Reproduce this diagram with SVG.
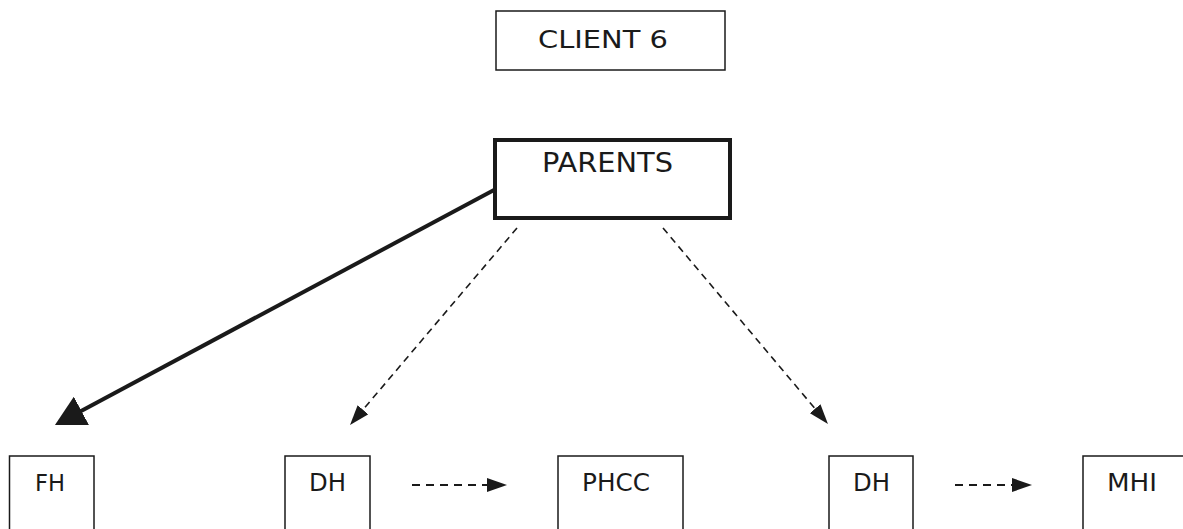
<svg xmlns="http://www.w3.org/2000/svg" width="1183" height="529" viewBox="0 0 1183 529">
  <style>
    .box { fill: #ffffff; stroke: #1a1a1a; stroke-width: 1.5; }
    .thick { stroke-width: 4; }
    .lbl { font-family: "DejaVu Sans", Verdana, sans-serif; fill: #1a1a1a; text-anchor: middle; }
    .solid { stroke: #1a1a1a; stroke-width: 4; fill: none; }
    .dash { stroke: #1a1a1a; stroke-width: 1.6; stroke-dasharray: 7 5; fill: none; }
    .hdash { stroke: #1a1a1a; stroke-width: 2; stroke-dasharray: 8 6; fill: none; }
  </style>
  <defs>
    <marker id="bigArrow" markerUnits="userSpaceOnUse" markerWidth="30" markerHeight="32" viewBox="0 0 30 32" refX="22" refY="16" orient="auto">
      <path d="M0,0 L30,16 L0,32 z" fill="#1a1a1a"/>
    </marker>
    <marker id="smallArrow" markerUnits="userSpaceOnUse" markerWidth="20" markerHeight="14" viewBox="0 0 20 14" refX="14" refY="7" orient="auto">
      <path d="M0,0 L20,7 L0,14 z" fill="#1a1a1a"/>
    </marker>
  </defs>
  <rect width="1183" height="529" fill="#ffffff"/>

  <g id="client6">
    <rect class="box" x="496" y="11" width="229" height="59"/>
    <text class="lbl" x="603" y="48" font-size="25" textLength="130" lengthAdjust="spacingAndGlyphs">CLIENT 6</text>
  </g>

  <g id="parents">
    <rect class="box thick" x="495" y="140" width="235" height="78"/>
    <text class="lbl" x="607.5" y="172" font-size="27" textLength="131" lengthAdjust="spacingAndGlyphs">PARENTS</text>
  </g>

  <g id="fh">
    <rect class="box" x="9.5" y="456" width="84.5" height="90"/>
    <text class="lbl" x="50" y="491" font-size="23" textLength="30" lengthAdjust="spacingAndGlyphs">FH</text>
  </g>

  <g id="dh1">
    <rect class="box" x="285" y="456" width="85" height="90"/>
    <text class="lbl" x="327.5" y="491" font-size="24" textLength="37" lengthAdjust="spacingAndGlyphs">DH</text>
  </g>

  <g id="phcc">
    <rect class="box" x="558" y="456" width="125" height="90"/>
    <text class="lbl" x="616" y="491" font-size="24" textLength="68" lengthAdjust="spacingAndGlyphs">PHCC</text>
  </g>

  <g id="dh2">
    <rect class="box" x="829" y="456" width="84" height="90"/>
    <text class="lbl" x="871.5" y="491" font-size="24" textLength="37" lengthAdjust="spacingAndGlyphs">DH</text>
  </g>

  <g id="mhi">
    <rect class="box" x="1083" y="456" width="120" height="90"/>
    <text class="lbl" x="1132" y="491" font-size="24" textLength="50" lengthAdjust="spacingAndGlyphs">MHI</text>
  </g>

  <g id="connectors">
    <line class="solid" x1="494" y1="190" x2="62" y2="421.2" marker-end="url(#bigArrow)"/>
    <line class="dash" x1="517" y1="228" x2="353.9" y2="420.4" marker-end="url(#smallArrow)"/>
    <line class="dash" x1="663" y1="228" x2="824.1" y2="419.4" marker-end="url(#smallArrow)"/>
    <line class="hdash" x1="412" y1="485" x2="501" y2="485" marker-end="url(#smallArrow)"/>
    <line class="hdash" x1="955" y1="485" x2="1026" y2="485" marker-end="url(#smallArrow)"/>
  </g>
</svg>
